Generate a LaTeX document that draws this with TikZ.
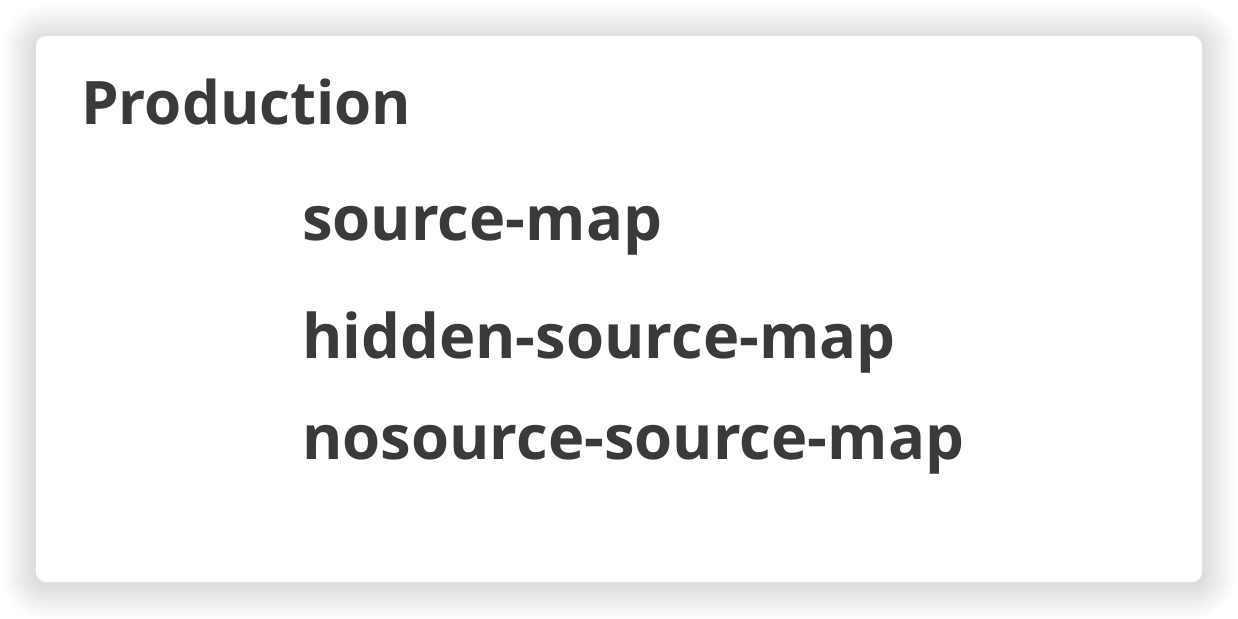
\documentclass[tikz,border=0pt]{standalone}
\usepackage{fontspec}
\setmainfont{Open Sans}
\definecolor{txt}{HTML}{3A3A3C}
\tikzset{
  card/.style={fill=white, rounded corners=10pt},
  shadowlayer/.style={fill=black, fill opacity=0.005},
  title/.style={anchor=base west, inner sep=0pt, text=txt, font=\fontsize{60}{66}\selectfont\bfseries},
  item/.style={anchor=base west, inner sep=0pt, text=txt, font=\fontsize{61.5}{66}\selectfont\bfseries}
}
\begin{document}
\begin{tikzpicture}[x=1pt,y=-1pt]
\useasboundingbox (0,0) rectangle (1238,618);
\fill[white] (0,0) rectangle (1238,618);
\foreach \i in {1,...,34} {
  \fill[shadowlayer, rounded corners=10pt+\i pt] (36-\i,39-\i) rectangle (1202+\i,585+\i);
}
\path[card] (36,36) rectangle (1202,582);
\node[title] (prod) at (81,124) {Production};
\node[item] (sm) at (302,240) {source-map};
\node[item] (hsm) at (302,358) {hidden-source-map};
\node[item] (nsm) at (302,459) {nosource-source-map};
\end{tikzpicture}
\end{document}
